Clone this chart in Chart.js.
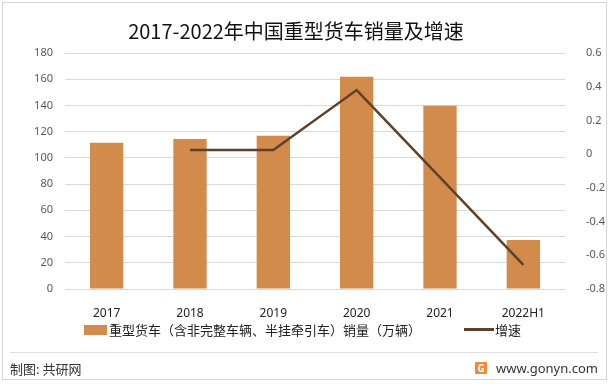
<!DOCTYPE html>
<html>
<head>
<meta charset="utf-8">
<script src="https://cdn.jsdelivr.net/npm/chart.js@4.4.1/dist/chart.umd.min.js"></script>
<style>
  html,body{margin:0;padding:0;background:#fff;}
  #wrap{position:relative;width:611px;height:384px;overflow:hidden;font-family:"Noto Sans CJK SC","Noto Sans",sans-serif;}
  #frame{position:absolute;left:2px;top:2px;width:605px;height:378px;border:1px solid #d6d6d6;box-sizing:border-box;}
  #title{position:absolute;left:0;width:592px;top:16px;text-align:center;font-size:20px;color:#111;}
  #legend{position:absolute;top:320px;left:84px;font-size:13px;color:#222;display:flex;align-items:center;white-space:nowrap;}
  .lg-box{display:inline-block;width:23px;height:10px;background:#D38B4C;margin-right:2px;}
  .lg-line{display:inline-block;width:30px;height:3px;background:#5E4129;margin-left:43px;margin-right:1px;}
  #sep{position:absolute;left:10px;right:13px;top:352px;height:1px;background:#dedede;}
  #src{position:absolute;left:10px;top:359px;font-size:13px;color:#333;}
  #site{position:absolute;right:13px;top:359px;font-size:13px;color:#333;display:flex;align-items:center;font-family:"Noto Sans",sans-serif;}
  .logo{display:inline-block;width:12px;height:12px;background:#F28A3A;color:#fff;font-size:10px;font-weight:bold;line-height:12px;text-align:center;margin-right:9px;border-radius:1px;}
  canvas{position:absolute;left:0;top:0;}
</style>
</head>
<body>
<div id="wrap">
  <canvas id="c" width="611" height="384"></canvas>
  <div id="frame"></div>
  <div id="title">2017-2022年中国重型货车销量及增速</div>
  <div id="legend">
    <span class="lg-box"></span><span>重型货车（含非完整车辆、半挂牵引车）销量（万辆）</span>
    <span class="lg-line"></span><span>增速</span>
  </div>
  <div id="sep"></div>
  <div id="src">制图: 共研网</div>
  <div id="site"><span class="logo">G</span>www.gonyn.com</div>
</div>
<script>
const years = ["2017","2018","2019","2020","2021","2022H1"];
const sales = [111.6, 114.4, 116.8, 161.9, 139.7, 37.4];
const growth = [null, 0.025, 0.025, 0.38, -0.138, -0.657];

const tickFont = { family:"'Noto Sans', sans-serif", size:11 };

new Chart(document.getElementById("c"), {
  data: {
    labels: years,
    datasets: [
      { type:"line", label:"增速", data: growth, yAxisID:"y1", borderColor:"#5E4129", borderWidth:2.5,
        pointRadius:0, tension:0, order:0 },
      { type:"bar", label:"重型货车（含非完整车辆、半挂牵引车）销量（万辆）", data: sales, yAxisID:"y",
        backgroundColor:"#D38B4C", barPercentage:0.4, categoryPercentage:1, order:1 }
    ]
  },
  options: {
    responsive:false, animation:false,
    layout:{ padding:{ top:53, bottom:65, left:0, right:0 } },
    plugins:{ legend:{ display:false }, title:{ display:false }, tooltip:{ enabled:false } },
    scales:{
      x:{
        grid:{ display:false }, border:{ display:false },
        ticks:{ font:{ family:"'Noto Sans', sans-serif", size:12 }, color:"#222", padding:9 },
        afterFit: s => { s.height = 30; }
      },
      y:{
        position:"left", min:0, max:180,
        ticks:{ stepSize:20, font:tickFont, color:"#595959", padding:12 },
        grid:{ color:"#d9d9d9", drawTicks:false }, border:{ display:false },
        afterFit: s => { s.width = 65; }
      },
      y1:{
        position:"right", min:-0.8, max:0.6,
        ticks:{ stepSize:0.2, font:tickFont, color:"#595959", padding:13,
          callback: v => Math.round(v*10)/10 },
        grid:{ display:false }, border:{ display:false },
        afterFit: s => { s.width = 46; }
      }
    }
  }
});
</script>
</body>
</html>
